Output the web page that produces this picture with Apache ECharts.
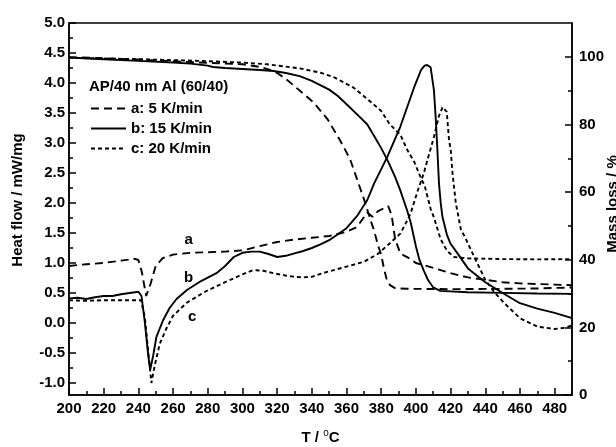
<!DOCTYPE html>
<html><head><meta charset="utf-8">
<script src="https://cdn.jsdelivr.net/npm/echarts@6.0.0/dist/echarts.min.js"></script>
<style>html,body{margin:0;padding:0;background:#fff}#c{width:616px;height:447px}</style>
</head><body><div id="c"></div>
<script>
// ---- tick values ----
const xMajor = [200,220,240,260,280,300,320,340,360,380,400,420,440,460,480];
const xMinor = [210,230,250,270,290,310,330,350,370,390,410,430,450,470];
const yLeftMajor = [-1.0,-0.5,0.0,0.5,1.0,1.5,2.0,2.5,3.0,3.5,4.0,4.5,5.0];
const yLeftMinor = [-0.75,-0.25,0.25,0.75,1.25,1.75,2.25,2.75,3.25,3.75,4.25,4.75];
const yRightMajor = [0,20,40,60,80,100];
const yRightMinor = [10,30,50,70,90];

// ---- legend / labels ----
const seriesNames = ['a: 5 K/min','b: 15 K/min','c: 20 K/min'];
const legendTitle = 'AP/40 nm Al (60/40)';
const curveLabels = ['a','b','c'];
const curveLabelT = [269, 269, 271];
const curveLabelV = [1.38, 0.76, 0.10];

// ---- DSC (heat flow, mW/mg) ----
const dscA_T = [200,210,220,230,238,240,242,244.5,247,250,254,260,270,280,290,300,310,320,330,340,350,360,366,372,375,378,384,386,388,391,396,400,410,420,430,440,450,460,470,480,490];
const dscA_V = [0.95,0.98,1.0,1.04,1.07,1.05,0.85,0.45,0.65,0.95,1.08,1.14,1.17,1.18,1.19,1.21,1.28,1.35,1.39,1.42,1.45,1.52,1.60,1.84,1.77,1.86,1.95,1.80,1.40,1.16,1.08,1.0,0.92,0.83,0.76,0.72,0.68,0.66,0.65,0.64,0.63];

const dscB_T = [200,205,210,215,220,225,230,235,240,241.8,243.7,245.6,246.8,248.5,250.4,254.3,258,262,268,275,285,290,295,300,305,310,315,320,325,330,335,340,345,350,355,360,366,372,376,383.5,391,399,403,405,406.5,408.5,410.4,411.4,412.4,413.3,414.3,415.3,418,420,424,430,440,450,460,470,480,490];
const dscB_V = [0.41,0.42,0.40,0.43,0.45,0.45,0.48,0.50,0.52,0.45,0.02,-0.52,-0.78,-0.55,-0.23,0.05,0.25,0.40,0.55,0.68,0.83,0.95,1.10,1.17,1.19,1.19,1.15,1.10,1.12,1.16,1.20,1.25,1.31,1.38,1.48,1.58,1.78,2.05,2.33,2.77,3.27,3.93,4.22,4.29,4.30,4.26,3.88,3.43,2.88,2.33,2.0,1.77,1.46,1.32,1.16,0.91,0.68,0.50,0.33,0.24,0.17,0.08];

const dscC_T = [200,210,220,230,241.5,243.7,245.6,247.5,249.5,252.3,256,260,268,279,290,300,305,308,312,318,325,330,335,340,345,350,360,370,378,385,391,395,397,401,404.6,406.6,410.4,413.3,415.4,417.8,419.1,420.1,421.1,423,426,428,434,440,445,451,460,470,480,486,490];
const dscC_V = [0.38,0.37,0.38,0.38,0.38,0.10,-0.45,-1.0,-0.70,-0.35,-0.10,0.12,0.34,0.53,0.68,0.81,0.87,0.88,0.87,0.83,0.79,0.77,0.76,0.77,0.82,0.86,0.94,1.02,1.15,1.33,1.49,1.71,1.83,2.20,2.50,2.71,3.10,3.45,3.60,3.52,3.05,2.88,2.50,2.00,1.55,1.45,1.08,0.72,0.52,0.33,0.08,-0.06,-0.10,-0.08,-0.04];

// ---- TG (mass, %) ----
const tgA_T = [200,220,240,260,280,300,310,315,320,325,331,341,349,356.5,362,366,370,374,376,378,380,381.5,383,385,388,395,420,450,470,490];
const tgA_M = [99.9,99.6,99.2,98.7,98.2,97.8,97.0,96.3,95.2,93.5,90.9,86.5,81.6,75.1,69.8,63.9,58.0,51.5,48.5,44.5,41.5,37.6,34.5,32.5,31.6,31.4,31.3,31.4,31.5,31.8];

const tgB_T = [200,220,240,260,270,280,283,290,300,310,318,325,333,340,350,355,362,368,372,376,380,384,388,391,395,397,400,402,404.6,407,410,414,430,450,470,490];
const tgB_M = [99.8,99.3,98.8,98.3,98.0,97.4,97.0,96.7,96.4,96.1,95.8,95.2,94.3,92.9,90.3,88.4,85.0,82.0,80.0,76.5,73.0,69.0,64.5,60.5,54.5,51.0,44.0,40.0,36.7,34.0,31.8,30.8,30.4,30.2,30.0,29.9];

const tgC_T = [200,240,275,300,314,333,345,353,364,372,380,385,391,395,399,403,405,408.5,410.4,414.3,418,422,430,450,470,490];
const tgC_M = [99.7,99.3,98.8,98.3,97.8,96.6,95.3,93.9,90.9,87.5,84.0,80.0,77.0,72.5,69.0,64.0,62.0,55.0,52.5,46.0,42.6,40.8,40.4,40.2,40.1,40.2];

const zip = (a, b) => a.map((t, i) => [t, b[i]]);

const FONT = 'Liberation Sans, Arial, sans-serif';
const black = '#000';
const lineW = 1.9;
const styles = [
  {type: [8, 5], width: lineW, color: black},
  {type: 'solid', width: lineW, color: black},
  {type: [4, 3], width: lineW, color: black}
];

const dscData = [zip(dscA_T, dscA_V), zip(dscB_T, dscB_V), zip(dscC_T, dscC_V)];
const tgData = [zip(tgA_T, tgA_M), zip(tgB_T, tgB_M), zip(tgC_T, tgC_M)];

const series = [];
for (let i = 0; i < 3; i++) {
  series.push({
    name: seriesNames[i], type: 'line', xAxisIndex: 0, yAxisIndex: 0,
    data: dscData[i], symbol: 'none', smooth: false,
    lineStyle: styles[i], itemStyle: {color: black},
    animation: false,
    markPoint: {
      symbol: 'circle', symbolSize: 0, animation: false,
      label: {show: true, formatter: curveLabels[i], color: black, fontFamily: FONT, fontWeight: 'bold', fontSize: 15, position: 'inside'},
      data: [{coord: [curveLabelT[i], curveLabelV[i]]}]
    }
  });
  series.push({
    name: seriesNames[i], type: 'line', xAxisIndex: 0, yAxisIndex: 1,
    data: tgData[i], symbol: 'none', smooth: false,
    lineStyle: styles[i], itemStyle: {color: black},
    animation: false
  });
}

const labelStyle = {color: black, fontFamily: FONT, fontWeight: 'bold', fontSize: 15};
const tickLine = {color: black, width: 1.5};

const chart = echarts.init(document.getElementById('c'), null, {renderer: 'canvas'});
chart.setOption({
  animation: false,
  backgroundColor: '#fff',
  grid: {left: 69, right: 44, top: 23, bottom: 52, outerBoundsMode: 'none', containLabel: false,
         show: true, borderColor: black, borderWidth: 1.5, backgroundColor: 'transparent'},
  title: {text: legendTitle, left: 89, top: 79, textStyle: {color: black, fontFamily: FONT, fontWeight: 'bold', fontSize: 15}, padding: 0},
  legend: {
    data: seriesNames, orient: 'vertical', left: 90, top: 101,
    itemWidth: 35, itemHeight: 14, itemGap: 5, padding: 0,
    itemStyle: {opacity: 0},
    textStyle: {color: black, fontFamily: FONT, fontWeight: 'bold', fontSize: 15},
    selectedMode: false
  },
  xAxis: [
    {type: 'value', min: 200, max: 490, position: 'bottom',
     name: '{a|T / }{s|o}{a|C}', nameLocation: 'middle', nameGap: 33, nameMoveOverlap: false,
     nameTextStyle: {rich: {a: {color: black, fontFamily: FONT, fontWeight: 'bold', fontSize: 15}, s: {color: black, fontFamily: FONT, fontWeight: 'normal', fontSize: 10, padding: [0, 0, 9, 0]}}},
     axisLine: {show: true, onZero: false, lineStyle: tickLine},
     axisTick: {show: true, inside: true, length: 7, lineStyle: tickLine, customValues: xMajor},
     axisLabel: {show: true, customValues: xMajor, margin: 6, ...labelStyle},
     splitLine: {show: false}},
    {type: 'value', min: 200, max: 490, position: 'bottom',
     axisLine: {show: false, onZero: false},
     axisTick: {show: true, inside: true, length: 4, lineStyle: tickLine, customValues: xMinor},
     axisLabel: {show: false}, splitLine: {show: false}}
  ],
  yAxis: [
    {type: 'value', min: -1.2, max: 5.0, position: 'left',
     name: 'Heat flow / mW/mg', nameLocation: 'middle', nameGap: 44, nameRotate: 90, nameMoveOverlap: false,
     nameTextStyle: {color: black, fontFamily: FONT, fontWeight: 'bold', fontSize: 15, padding: [0, 0, 0, 18]},
     axisLine: {show: true, onZero: false, lineStyle: tickLine},
     axisTick: {show: true, inside: true, length: 7, lineStyle: tickLine, customValues: yLeftMajor},
     axisLabel: {show: true, customValues: yLeftMajor, margin: 4, formatter: v => v.toFixed(1), ...labelStyle},
     splitLine: {show: false}},
    {type: 'value', min: 0, max: 110, position: 'right',
     name: 'Mass loss / %', nameLocation: 'middle', nameGap: 33, nameRotate: 90, nameMoveOverlap: false,
     nameTextStyle: {color: black, fontFamily: FONT, fontWeight: 'bold', fontSize: 15, padding: [0, 0, 0, 10]},
     axisLine: {show: true, onZero: false, lineStyle: tickLine},
     axisTick: {show: true, inside: true, length: 7, lineStyle: tickLine, customValues: yRightMajor},
     axisLabel: {show: true, customValues: yRightMajor, margin: 7, ...labelStyle},
     splitLine: {show: false}},
    {type: 'value', min: -1.2, max: 5.0, position: 'left',
     axisLine: {show: false, onZero: false},
     axisTick: {show: true, inside: true, length: 4, lineStyle: tickLine, customValues: yLeftMinor},
     axisLabel: {show: false}, splitLine: {show: false}},
    {type: 'value', min: 0, max: 110, position: 'right',
     axisLine: {show: false, onZero: false},
     axisTick: {show: true, inside: true, length: 4, lineStyle: tickLine, customValues: yRightMinor},
     axisLabel: {show: false}, splitLine: {show: false}}
  ],
  series: series
});
</script>
</body></html>
